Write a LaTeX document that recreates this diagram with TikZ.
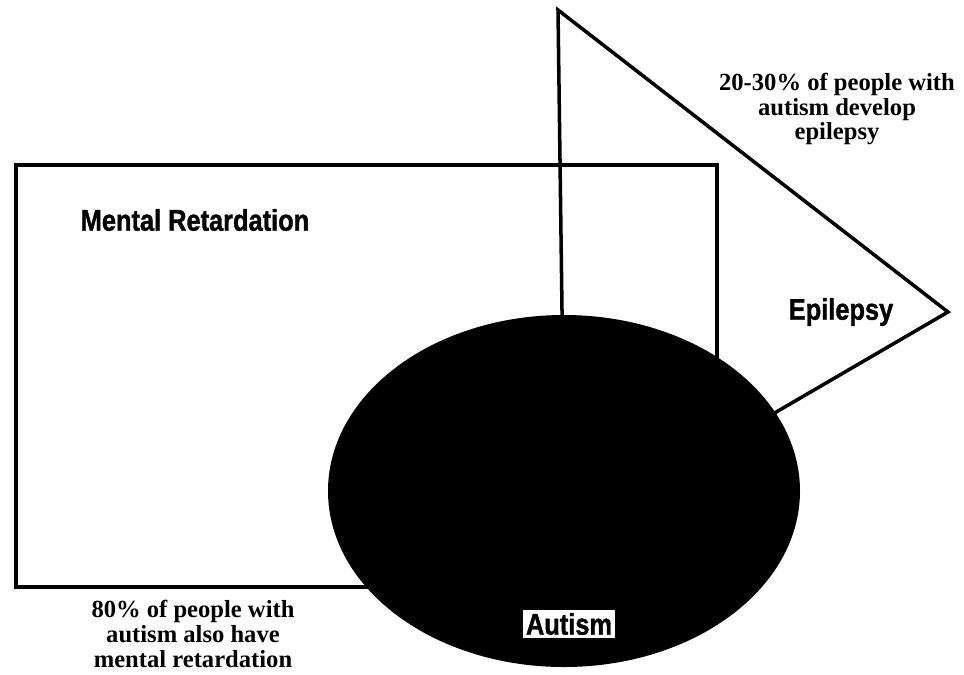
\documentclass[tikz,border=0pt]{standalone}
\usepackage{fontspec}
\usepackage{tikz}
\setmainfont{Liberation Serif}
\newfontfamily\labelfont[FakeStretch=0.85, FakeBold=1.2]{Liberation Sans}

\tikzset{
  setname/.style={font=\labelfont\bfseries\fontsize{17}{18}\selectfont, inner sep=0pt},
  notetext/.style={font=\bfseries\fontsize{14}{14.2}\selectfont, align=center, inner sep=0pt},
}

\begin{document}
\begin{tikzpicture}[x=0.02cm, y=-0.02cm, line width=2pt, line join=miter]
        \useasboundingbox (0,0) rectangle (964,674);

        % the three sets
        \draw (16,165) rectangle (717,587);
        \draw (558,10) -- (948,312) -- (565,535) -- cycle;
        \fill (564,491) ellipse [x radius=236, y radius=176];

        \node[setname] (mr) at (195,220) {Mental Retardation};
        \node[setname] (ep) at (841,312) {Epilepsy};
        \node[setname, fill=white, inner sep=1.5pt] (au) at (569,624) {Autism};

        \node[notetext] (epnote) at (837,109) {20-30\% of people with\\autism develop\\epilepsy};
        \node[notetext] (mrnote) at (193,634) {80\% of people with\\autism also have\\mental retardation};
    \end{tikzpicture}
\end{document}
